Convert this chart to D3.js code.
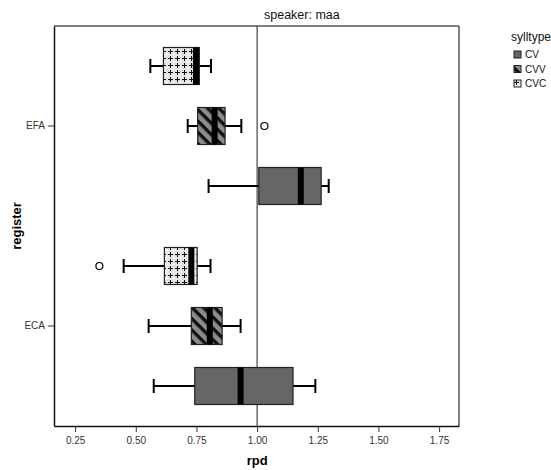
<!DOCTYPE html>
<html>
<head>
<meta charset="utf-8">
<script src="https://cdn.jsdelivr.net/npm/d3@7"></script>
<style>
body { margin: 0; background: #fff; }
text { font-family: Arial, "Liberation Sans", sans-serif; }
</style>
</head>
<body>
<div id="chart"></div>
<script>
var registers = ["EFA", "ECA"];
var sylltypes = ["CV", "CVV", "CVC"];
var xTicks = [0.25, 0.50, 0.75, 1.00, 1.25, 1.50, 1.75];

// [register, sylltype, whiskerLow, q1, median, q3, whiskerHigh]
var boxStats = [
    ["EFA", "CVC", 0.56, 0.614, 0.748, 0.762, 0.81],
    ["EFA", "CVV", 0.714, 0.755, 0.825, 0.868, 0.935],
    ["EFA", "CV", 0.80, 1.007, 1.18, 1.264, 1.295],
    ["ECA", "CVC", 0.45, 0.618, 0.729, 0.753, 0.808],
    ["ECA", "CVV", 0.553, 0.729, 0.805, 0.856, 0.932],
    ["ECA", "CV", 0.574, 0.743, 0.932, 1.148, 1.24]
];
// [register, sylltype, value]
var outliers = [
    ["EFA", "CVV", 1.03],
    ["ECA", "CVC", 0.35]
];

var width = 551, height = 470;
var plot = {left: 54, top: 26, right: 459, bottom: 426};

var svg = d3.select("#chart").append("svg")
    .attr("width", width)
    .attr("height", height);

var defs = svg.append("defs");

// diagonal hatch for CVV
var hatch = defs.append("pattern")
    .attr("id", "hatch")
    .attr("patternUnits", "userSpaceOnUse")
    .attr("width", 8).attr("height", 8)
    .attr("patternTransform", "rotate(45)");
hatch.append("rect").attr("width", 8).attr("height", 8).attr("fill", "#8c8c8c");
hatch.append("rect").attr("x", 0).attr("y", 0).attr("width", 8).attr("height", 3.4).attr("fill", "#111");

// plus pattern for CVC
var plus = defs.append("pattern")
    .attr("id", "plus")
    .attr("patternUnits", "userSpaceOnUse")
    .attr("width", 7).attr("height", 7);
plus.append("rect").attr("width", 7).attr("height", 7).attr("fill", "#e4e4e4");
plus.append("circle").attr("cx", 5.5).attr("cy", 5.5).attr("r", 1).attr("fill", "#fff");
plus.append("path").attr("d", "M0,2.5H5M2.5,0V5")
    .attr("stroke", "#111").attr("stroke-width", 1).attr("fill", "none");

var fills = {CV: "#666666", CVV: "url(#hatch)", CVC: "url(#plus)"};

var x = d3.scaleLinear()
    .domain([0.163, 1.832])
    .range([plot.left, plot.right]);

var y = d3.scaleBand()
    .domain(registers)
    .range([plot.top, plot.bottom]);

// offset of each sylltype inside its register band
var sub = d3.scalePoint()
    .domain(["CVC", "CVV", "CV"])
    .range([-60, 60]);

function cy(reg, st) {
    return y(reg) + y.bandwidth() / 2 + sub(st);
}

var boxH = 37, capH = 14;

// frame
svg.append("line").attr("x1", plot.left).attr("x2", plot.right)
    .attr("y1", plot.top).attr("y2", plot.top)
    .attr("stroke", "#555").attr("stroke-width", 1.5);
svg.append("line").attr("x1", plot.right).attr("x2", plot.right)
    .attr("y1", plot.top).attr("y2", plot.bottom)
    .attr("stroke", "#555").attr("stroke-width", 1.5);

// x axis
var xAxis = svg.append("g")
    .attr("transform", "translate(0," + plot.bottom + ")")
    .call(d3.axisBottom(x).tickValues(xTicks).tickFormat(d3.format(".2f")).tickSize(6).tickSizeOuter(0));
xAxis.select(".domain").attr("stroke", "#111").attr("stroke-width", 1.5);
xAxis.selectAll(".tick line").attr("stroke", "#333");
xAxis.selectAll("text").attr("font-size", 10).attr("fill", "#333")
    .attr("font-family", "Arial, 'Liberation Sans', sans-serif").attr("dy", "0.9em");

// y axis
var yAxis = svg.append("g")
    .attr("transform", "translate(" + plot.left + ",0)")
    .call(d3.axisLeft(y).tickSize(6).tickSizeOuter(0));
yAxis.select(".domain").attr("stroke", "#111").attr("stroke-width", 1.5);
yAxis.selectAll(".tick line").attr("stroke", "#333");
yAxis.selectAll("text").attr("font-size", 10).attr("fill", "#333")
    .attr("font-family", "Arial, 'Liberation Sans', sans-serif");

// reference line at 1
svg.append("line")
    .attr("x1", x(1)).attr("x2", x(1))
    .attr("y1", plot.top).attr("y2", plot.bottom)
    .attr("stroke", "#444").attr("stroke-width", 1.2);

var boxes = svg.append("g").selectAll("g")
    .data(boxStats).enter()
    .append("g");

// whiskers
boxes.append("line")
    .attr("x1", function(d) { return x(d[2]); })
    .attr("x2", function(d) { return x(d[6]); })
    .attr("y1", function(d) { return cy(d[0], d[1]); })
    .attr("y2", function(d) { return cy(d[0], d[1]); })
    .attr("stroke", "#000").attr("stroke-width", 2);
boxes.selectAll(".cap")
    .data(function(d) { return [[d[0], d[1], d[2]], [d[0], d[1], d[6]]]; })
    .enter().append("line")
    .attr("class", "cap")
    .attr("x1", function(d) { return x(d[2]); })
    .attr("x2", function(d) { return x(d[2]); })
    .attr("y1", function(d) { return cy(d[0], d[1]) - capH / 2; })
    .attr("y2", function(d) { return cy(d[0], d[1]) + capH / 2; })
    .attr("stroke", "#000").attr("stroke-width", 2);

// box
boxes.append("rect")
    .attr("x", function(d) { return x(d[3]); })
    .attr("width", function(d) { return x(d[5]) - x(d[3]); })
    .attr("y", function(d) { return cy(d[0], d[1]) - boxH / 2; })
    .attr("height", boxH)
    .attr("fill", function(d) { return fills[d[1]]; })
    .attr("stroke", "#222").attr("stroke-width", 1.2);

// median
boxes.append("rect")
    .attr("x", function(d) { return x(d[4]) - 3; })
    .attr("width", 6)
    .attr("y", function(d) { return cy(d[0], d[1]) - boxH / 2; })
    .attr("height", boxH)
    .attr("fill", "#000");

// outliers
svg.append("g").selectAll("circle")
    .data(outliers).enter()
    .append("circle")
    .attr("cx", function(d) { return x(d[2]); })
    .attr("cy", function(d) { return cy(d[0], d[1]); })
    .attr("r", 3.5)
    .attr("fill", "#fff").attr("stroke", "#000").attr("stroke-width", 1.2);

// title
svg.append("text")
    .attr("x", 264).attr("y", 19)
    .attr("font-size", 12.5).attr("fill", "#111")
    .text("speaker: maa");

// axis titles
svg.append("text")
    .attr("x", x(1)).attr("y", 465)
    .attr("text-anchor", "middle")
    .attr("font-size", 13).attr("font-weight", "bold")
    .text("rpd");
svg.append("text")
    .attr("transform", "translate(21," + ((plot.top + plot.bottom) / 2) + ") rotate(-90)")
    .attr("text-anchor", "middle")
    .attr("font-size", 13).attr("font-weight", "bold")
    .text("register");

// legend
var legend = svg.append("g");
legend.append("text")
    .attr("x", 511).attr("y", 41)
    .attr("font-size", 12).attr("fill", "#111")
    .text("sylltype");
var items = legend.selectAll(".item")
    .data(sylltypes).enter()
    .append("g")
    .attr("class", "item")
    .attr("transform", function(d, i) { return "translate(514," + (51 + i * 14.5) + ")"; });
items.append("rect")
    .attr("width", 7).attr("height", 7)
    .attr("fill", function(d) { return fills[d]; })
    .attr("stroke", "#222").attr("stroke-width", 1);
items.append("text")
    .attr("x", 11).attr("y", 7)
    .attr("font-size", 10).attr("fill", "#111")
    .text(function(d) { return d; });
</script>
</body>
</html>
